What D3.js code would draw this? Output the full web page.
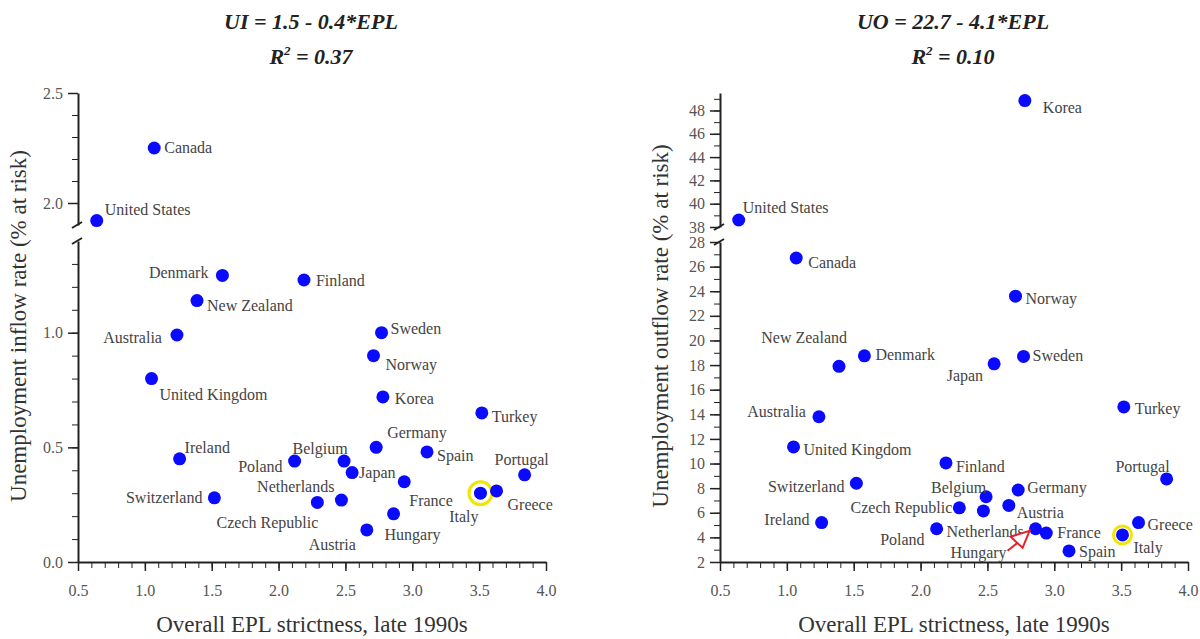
<!DOCTYPE html>
<html>
<head>
<meta charset="utf-8">
<script src="https://cdn.jsdelivr.net/npm/d3@7"></script>
<style>
  body { margin: 0; background: #fff; }
  svg, svg text { font-family: "Liberation Serif", "Times New Roman", serif; }
  .tick text { fill: #555; font-size: 16px; font-family: "Liberation Serif", serif; }
  .axis path, .axis line { stroke: #222; }
  .label { fill: #444; font-size: 16px; }
  .title { font-weight: bold; font-style: italic; font-size: 22px; fill: #222; }
  .axisTitle { fill: #333; font-size: 23px; }
</style>
</head>
<body>
<div id="chart"></div>
<script>
// data
var countries = ["United States", "Canada", "United Kingdom", "Ireland", "Australia", "New Zealand",
    "Switzerland", "Denmark", "Poland", "Finland", "Czech Republic", "Netherlands", "Belgium", "Japan",
    "Austria", "Norway", "Germany", "Sweden", "Korea", "Hungary", "France", "Spain", "Italy", "Turkey",
    "Greece", "Portugal"];
var epl = [0.64, 1.07, 1.05, 1.26, 1.24, 1.39, 1.52, 1.58, 2.12, 2.19, 2.29, 2.47, 2.49, 2.55,
    2.66, 2.71, 2.73, 2.77, 2.78, 2.86, 2.94, 3.11, 3.51, 3.52, 3.63, 3.84];
var inflowRate = [1.92, 2.25, 0.80, 0.45, 0.99, 1.14, 0.28, 1.25, 0.44, 1.23, 0.26, 0.27, 0.44, 0.39,
    0.14, 0.90, 0.50, 1.00, 0.72, 0.21, 0.35, 0.48, 0.30, 0.65, 0.31, 0.38];
var outflowRate = [38.6, 26.7, 11.35, 5.2, 13.8, 17.9, 8.4, 18.75, 4.7, 10.05, 6.4, 6.15, 7.3, 18.1,
    6.6, 23.6, 7.85, 18.7, 48.85, 4.7, 4.35, 2.9, 4.2, 14.6, 5.2, 8.75];

var xTicks = [0.5, 1.0, 1.5, 2.0, 2.5, 3.0, 3.5, 4.0];
var inflowTicksLow = [0.0, 0.5, 1.0];
var inflowTicksHigh = [2.0, 2.5];
var outflowTicksLow = [2, 4, 6, 8, 10, 12, 14, 16, 18, 20, 22, 24, 26, 28];
var outflowTicksHigh = [38, 40, 42, 44, 46, 48];

// label placement: [anchor, dx, dy]
var inflowLabels = {
    "Canada": ["start", 10, 5], "United States": ["start", 8, -6], "Denmark": ["end", -14, 3],
    "Finland": ["start", 12, 6], "New Zealand": ["start", 10, 10], "Australia": ["end", -15, 8],
    "United Kingdom": ["start", 8, 21], "Sweden": ["start", 9, 1], "Norway": ["start", 12, 14],
    "Korea": ["start", 12, 7], "Turkey": ["start", 10, 9], "Germany": ["start", 11, -9],
    "Spain": ["start", 10, 9], "Portugal": ["middle", -3, -10], "Ireland": ["start", 5, -6],
    "Poland": ["end", -12, 11], "Belgium": ["middle", -24, -7], "Japan": ["start", 7, 5],
    "Netherlands": ["end", -7, -8], "Czech Republic": ["end", 1, 26], "Switzerland": ["end", -12, 5],
    "France": ["start", 5, 24], "Greece": ["start", 11, 19], "Italy": ["end", -2, 29],
    "Hungary": ["start", -9, 26], "Austria": ["end", -11, 20]
};
var outflowLabels = {
    "Korea": ["start", 18, 12], "United States": ["start", 4, -7], "Canada": ["start", 12, 10],
    "Norway": ["start", 10, 8], "New Zealand": ["end", 8, -23], "Denmark": ["start", 11, 4],
    "Japan": ["end", -11, 17], "Sweden": ["start", 9, 5], "Turkey": ["start", 11, 7],
    "Australia": ["end", -13, 0], "United Kingdom": ["start", 10, 8], "Finland": ["start", 10, 9],
    "Portugal": ["end", 3, -7], "Switzerland": ["end", -12, 9], "Germany": ["start", 9, 3],
    "Belgium": ["end", 0, -4], "Czech Republic": ["end", -7, 5], "Austria": ["start", 8, 13],
    "Netherlands": ["start", -37, 26], "Poland": ["end", -12, 16], "Hungary": ["end", -29, 29],
    "France": ["start", 11, 5], "Spain": ["start", 10, 6], "Italy": ["start", 11, 18],
    "Greece": ["start", 9, 7], "Ireland": ["end", -12, 2]
};

var width = 1200, height = 639;
var svg = d3.select("#chart").append("svg")
    .attr("width", width)
    .attr("height", height);

function range(a, b, step) {
    var out = [];
    for (var v = a; v <= b + 1e-9; v += step) out.push(Math.round(v * 100) / 100);
    return out;
}

function drawPanel(p) {
    var g = svg.append("g");
    var x = d3.scaleLinear().domain([0.5, 4.0]).range([p.left, p.left + 468]);
    var yLow = d3.scaleLinear().domain(p.lowDomain).range([562, p.lowTop]);
    var yHigh = d3.scaleLinear().domain(p.highDomain).range([p.highBottom, 93]);
    var y = (v) => v >= p.split ? yHigh(v) : yLow(v);

    // titles
    g.append("text").attr("class", "title")
        .attr("x", p.left + 233).attr("y", 29).attr("text-anchor", "middle")
        .text(p.title);
    var r = g.append("text").attr("class", "title")
        .attr("x", p.left + 233).attr("y", 64).attr("text-anchor", "middle");
    r.append("tspan").text("R");
    r.append("tspan").attr("dy", -9).attr("font-size", 13).text("2");
    r.append("tspan").attr("dy", 9).text(" = " + p.r2);

    // x axis, minor then major
    g.append("g").attr("class", "axis")
        .attr("transform", "translate(0,562)")
        .call(d3.axisBottom(x).tickValues(range(0.5, 4.0, 0.1)).tickSize(6).tickSizeOuter(0).tickFormat(""))
        .call((s) => s.select(".domain").attr("stroke-width", 2));
    g.append("g").attr("class", "axis")
        .attr("transform", "translate(0,562)")
        .call(d3.axisBottom(x).tickValues(xTicks).tickSize(9).tickSizeOuter(0).tickFormat(d3.format(".1f")))
        .attr("font-family", null).attr("font-size", null)
        .call((s) => s.select(".domain").remove())
        .call((s) => s.selectAll(".tick line").attr("stroke-width", 1.5))
        .call((s) => s.selectAll(".tick text").attr("dy", 22));

    // y axis, two segments
    [[yLow, p.lowMinor, p.lowTicks], [yHigh, p.highMinor, p.highTicks]].forEach((seg) => {
        g.append("g").attr("class", "axis")
            .attr("transform", "translate(" + p.left + ",0)")
            .call(d3.axisLeft(seg[0]).tickValues(seg[1]).tickSize(6).tickSizeOuter(0).tickFormat(""))
            .call((s) => s.select(".domain").attr("stroke-width", 2));
        g.append("g").attr("class", "axis")
            .attr("transform", "translate(" + p.left + ",0)")
            .call(d3.axisLeft(seg[0]).tickValues(seg[2]).tickSize(10).tickSizeOuter(0).tickFormat(p.fmt))
            .attr("font-family", null).attr("font-size", null)
            .call((s) => s.select(".domain").remove())
            .call((s) => s.selectAll(".tick line").attr("stroke-width", 1.5))
            .call((s) => s.selectAll(".tick text").attr("dx", -2));
    });
    // break marks
    [yHigh.range()[0], yLow.range()[1]].forEach((yy) => {
        g.append("line")
            .attr("x1", p.left - 6).attr("y1", yy + 3)
            .attr("x2", p.left + 4).attr("y2", yy - 3)
            .style("stroke", "#222").style("stroke-width", 2);
    });

    // axis titles
    g.append("text").attr("class", "axisTitle")
        .attr("x", p.left + 234).attr("y", 632).attr("text-anchor", "middle")
        .text("Overall EPL strictness, late 1990s");
    g.append("text").attr("class", "axisTitle")
        .attr("transform", "translate(" + (p.left - 52) + ",326) rotate(-90)")
        .attr("text-anchor", "middle")
        .text(p.yTitle);

    // highlight Italy
    var it = countries.indexOf("Italy");
    g.append("circle")
        .attr("cx", x(epl[it])).attr("cy", y(p.values[it]))
        .attr("r", p.ringR)
        .style("fill", "none").style("stroke", "#f2e600").style("stroke-width", 3);

    // points
    g.selectAll("circle.dot")
        .data(countries).enter()
        .append("circle")
        .attr("class", "dot")
        .attr("cx", (d, i) => x(epl[i]))
        .attr("cy", (d, i) => y(p.values[i]))
        .attr("r", 6.5)
        .style("fill", "#0a0aff");

    // labels
    g.selectAll("text.label")
        .data(countries).enter()
        .append("text")
        .attr("class", "label")
        .attr("text-anchor", (d) => p.labels[d][0])
        .attr("x", (d, i) => x(epl[i]) + p.labels[d][1])
        .attr("y", (d, i) => y(p.values[i]) + p.labels[d][2])
        .text((d) => d);

    return {x: x, y: y, g: g};
}

drawPanel({
    left: 78, title: "UI = 1.5 - 0.4*EPL", r2: "0.37",
    lowDomain: [0, 1.4], lowTop: 241, highDomain: [1.9, 2.5], highBottom: 225, split: 1.5,
    lowTicks: inflowTicksLow, highTicks: inflowTicksHigh,
    lowMinor: range(0, 1.3, 0.1), highMinor: range(2.0, 2.5, 0.1),
    fmt: d3.format(".1f"), yTitle: "Unemployment inflow rate (% at risk)",
    values: inflowRate, labels: inflowLabels, ringR: 11.5
});

var right = drawPanel({
    left: 720, title: "UO = 22.7 - 4.1*EPL", r2: "0.10",
    lowDomain: [2, 28], lowTop: 242, highDomain: [38, 49.5], highBottom: 227, split: 33,
    lowTicks: outflowTicksLow, highTicks: outflowTicksHigh,
    lowMinor: range(2, 28, 1), highMinor: range(38, 49, 1),
    fmt: d3.format("d"), yTitle: "Unemployment outflow rate (% at risk)",
    values: outflowRate, labels: outflowLabels, ringR: 9
});

// red arrow pointing at Hungary
var hu = countries.indexOf("Hungary");
var hx = right.x(epl[hu]), hy = right.y(outflowRate[hu]);
right.g.append("path")
    .attr("d", "M" + (hx - 28) + "," + (hy + 22) + "L" + (hx - 18) + "," + (hy + 14))
    .style("stroke", "#e8202a").style("stroke-width", 2).style("fill", "none");
right.g.append("path")
    .attr("d", "M" + (hx - 25) + "," + (hy + 8) + "L" + (hx - 6) + "," + (hy + 2) +
        "L" + (hx - 13) + "," + (hy + 19) + "Z")
    .style("stroke", "#e8202a").style("stroke-width", 2).style("fill", "#fff");
</script>
</body>
</html>
